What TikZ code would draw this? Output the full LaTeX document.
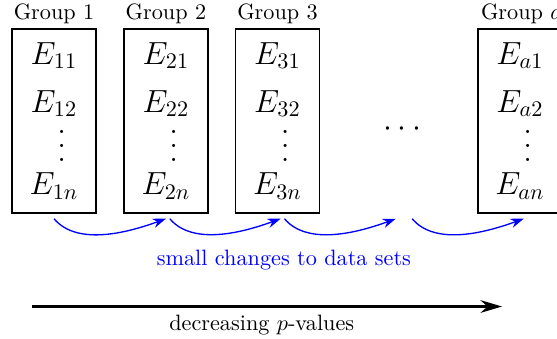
\documentclass[tikz,border=0pt]{standalone}
\usepackage{amsmath}
\usetikzlibrary{arrows.meta,positioning}

% vertical dots with wider spacing
\newcommand{\tallvdots}{\vbox{\baselineskip6.4pt\lineskiplimit0pt
  \hbox{.}\hbox{.}\hbox{.}}}

\begin{document}
\begin{tikzpicture}[
  databox/.style={draw, thick, minimum width=1.33cm, minimum height=2.91cm,
    inner sep=0pt, font=\Large, align=center},
  grouplabel/.style={font=\normalsize, anchor=base},
  tweak/.style={-{Stealth[length=2.1mm,width=1.5mm]}, semithick, blue},
  >=Stealth,
]
  \useasboundingbox (0,0) rectangle (8.81,5.36);

  % Data sets of each group
  \node[databox] (G1) at (0.854,3.45)
    {$E_{11}$\\[3.6pt]$E_{12}$\\[4.2pt]\hspace*{7pt}\tallvdots\\[-3.2pt]$E_{1n}$};
  \node[databox] (G2) at (2.625,3.45)
    {$E_{21}$\\[3.6pt]$E_{22}$\\[4.2pt]\hspace*{7pt}\tallvdots\\[-3.2pt]$E_{2n}$};
  \node[databox] (G3) at (4.389,3.45)
    {$E_{31}$\\[3.6pt]$E_{32}$\\[4.2pt]\hspace*{7pt}\tallvdots\\[-3.2pt]$E_{3n}$};
  \node[databox] (Ga) at (8.224,3.45)
    {$E_{a1}$\\[3.6pt]$E_{a2}$\\[4.2pt]\hspace*{7pt}\tallvdots\\[-3.2pt]$E_{an}$};

  % Group labels (top)
  \node[grouplabel] (L1) at (0.854,5.045) {Group 1};
  \node[grouplabel] (L2) at (2.625,5.045) {Group 2};
  \node[grouplabel] (L3) at (4.389,5.045) {Group 3};
  \node[grouplabel] (La) at (8.25,5.045) {Group $a$};

  % Omitted groups
  \node[font=\Large, anchor=base] (dots) at (6.405,3.2) {$\cdots$};

  % Small changes between neighbouring groups
  \coordinate (gapin) at (6.26,1.9);
  \coordinate (gapout) at (6.52,1.9);
  \draw[tweak] ([yshift=-0.8mm]G1.south) to[out=-50,in=-160,looseness=0.85]
    ([yshift=-0.8mm]G2.south);
  \draw[tweak] ([xshift=0.6mm,yshift=-0.8mm]G2.south) to[out=-50,in=-160,looseness=0.85]
    ([xshift=0.5mm,yshift=-0.8mm]G3.south);
  \draw[tweak] ([xshift=1.1mm,yshift=-0.8mm]G3.south) to[out=-50,in=-160,looseness=0.85]
    (gapin);
  \draw[tweak] (gapout) to[out=-50,in=-160,looseness=0.85]
    ([xshift=0.6mm,yshift=-0.8mm]Ga.south);
  \node[blue, anchor=base] (change) at (4.49,1.155)
    {small changes to data sets};

  % Direction of p-values
  \coordinate (pstart) at (0.506,0.512);
  \coordinate (pend) at (7.94,0.512);
  \draw[-{Stealth[length=3.4mm,width=2mm]}, line width=1.2pt] (pstart) -- (pend);
  \node[anchor=base] (pvals) at (4.14,0.14) {decreasing $p$-values};
\end{tikzpicture}
\end{document}
